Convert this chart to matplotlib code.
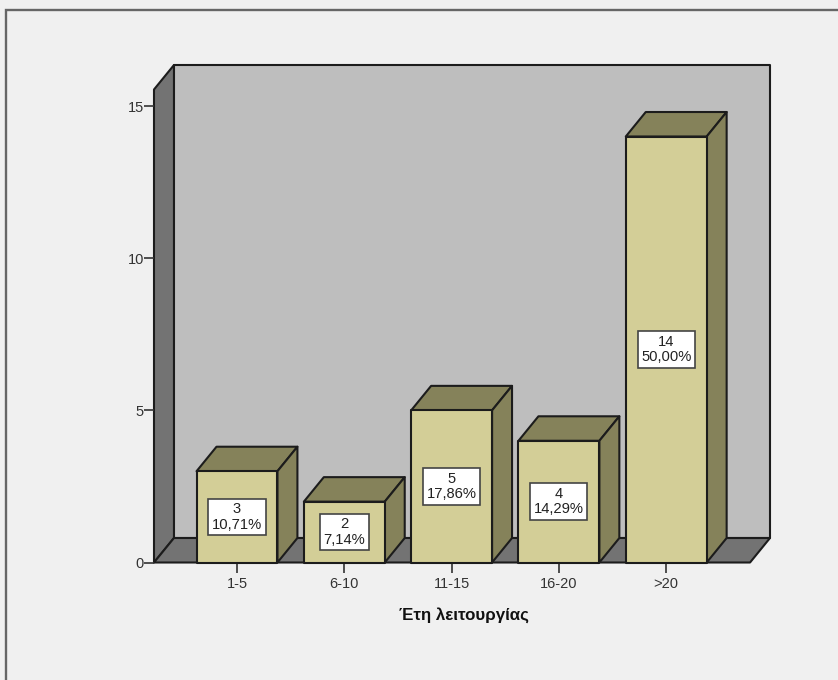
import matplotlib
matplotlib.use('Agg')
import matplotlib.pyplot as plt
from matplotlib.patches import Rectangle

plt.rcParams['font.family'] = ['Liberation Sans', 'DejaVu Sans']

categories = ['1-5', '6-10', '11-15', '16-20', '>20']
counts = [3, 2, 5, 4, 14]
percents = ['10,71%', '7,14%', '17,86%', '14,29%', '50,00%']
yticks = [0, 5, 10, 15]
xlabel = 'Έτη λειτουργίας'

BG = '#f0f0f0'
WALL = '#bebebe'
DARK_WALL = '#737373'
FACE = '#d3ce97'
SIDE = '#85825a'
LINE = '#1c1c1c'

W, H = 838, 680
# box depth and half bar width, in axis units
DX = 0.186
DY = 0.805
HALF = 0.377
LEFT = -0.7735
FRONT_RIGHT = 4.781
TOP = 16.35

fig = plt.figure(figsize=(W / 100, H / 100), dpi=100, facecolor=BG)
fig.add_artist(Rectangle((6 / W, -0.1), 1.1, 1.1 - 10 / H, transform=fig.transFigure,
                         facecolor='none', edgecolor='#666666', linewidth=1.7))

ax = fig.add_axes([154 / W, (H - 562.5) / H, (770 - 154) / W, (562.5 - 65) / H])
ax.patch.set_visible(False)
ax.set_xlim(LEFT, FRONT_RIGHT + DX)
ax.set_ylim(0, TOP)
for s in ax.spines.values():
    s.set_visible(False)


def poly(xs, ys, color, z=1):
    ax.fill(xs, ys, facecolor=color, edgecolor=LINE, linewidth=1.5,
            joinstyle='round', clip_on=False, zorder=z)


# back wall, left wall, floor
top_front = TOP - DY
poly([LEFT + DX, FRONT_RIGHT + DX, FRONT_RIGHT + DX, LEFT + DX], [DY, DY, TOP, TOP], WALL)
poly([LEFT, LEFT + DX, LEFT + DX, LEFT], [0, DY, TOP, top_front], DARK_WALL)
poly([LEFT, FRONT_RIGHT, FRONT_RIGHT + DX, LEFT + DX], [0, 0, DY, DY], DARK_WALL)

for i, v in enumerate(counts):
    x0, x1 = i - HALF, i + HALF
    poly([x0, x1, x1 + DX, x0 + DX], [v, v, v + DY, v + DY], SIDE, 3)
    poly([x1, x1 + DX, x1 + DX, x1], [0, DY, v + DY, v], SIDE, 3)
    poly([x0, x1, x1, x0], [0, 0, v, v], FACE, 4)
    ax.text(i, v / 2, '{}\n{}'.format(v, percents[i]), ha='center', va='center',
            fontsize=10.6, color='#222222', linespacing=1.12, zorder=5,
            bbox=dict(boxstyle='square,pad=0.24', facecolor='white',
                      edgecolor='#444444', linewidth=1.2))

ax.set_xticks(range(len(categories)))
ax.set_xticklabels(categories)
ax.set_yticks(yticks)
ax.tick_params(axis='both', length=7.2, width=1.2, color='#333333', labelcolor='#333333',
               labelsize=10.5, pad=3)
ax.tick_params(axis='y', pad=0)

fig.text(463.5 / W, (H - 615) / H, xlabel, ha='center', va='center',
         fontsize=12.2, fontweight='bold', color='#111111')

fig.savefig('out.png', dpi=100, facecolor=BG)
